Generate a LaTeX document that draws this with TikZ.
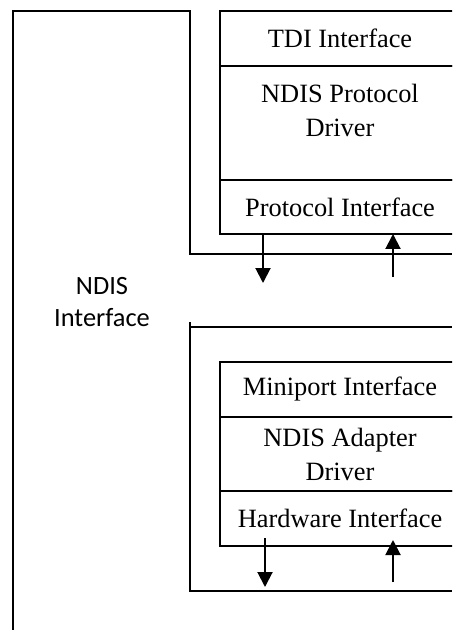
\documentclass[tikz,border=0pt]{standalone}
\usepackage{fontspec}
\setmainfont{Liberation Serif}
\newfontfamily\sidefont{Carlito}
\usepackage{tikz}
\usetikzlibrary{positioning}
\usetikzlibrary{arrows.meta}
\tikzset{my_stack/.style={line width=1pt,x=0.5pt,y=-0.5pt,>={Triangle[width=7.5pt,length=7.5pt]}}}
\tikzset{my_layer/.style={draw, line width=1pt, rectangle, minimum width=120pt, inner sep=0pt, outer sep=0pt, align=center, font=\fontsize{13.2}{17}\selectfont}}
\tikzset{my_side/.style={align=center, font=\sidefont\fontsize{13.2}{16}\selectfont}}
\tikzset{my_flow/.style={->, line width=1pt}}

\begin{document}
\begin{tikzpicture}[my_stack]
    \tikzstyle{thin_layer}=[my_layer, minimum height=27.5pt]
    \useasboundingbox (0,0) rectangle (452,630);
    \clip (0,0) rectangle (452,630);
    %\draw[help lines] (0,0) grid (452,630);

    % protocol side
    \node[thin_layer, anchor=north west] (tdi) at (220,11) {TDI Interface};
    \node[my_layer, minimum height=57pt, below=0pt of tdi] (protdrv)
        {\parbox[c][39pt][t]{110pt}{\centering NDIS Protocol\\Driver}};
    \node[thin_layer, minimum height=27pt, below=0pt of protdrv] (protif) {Protocol Interface};

    % adapter side
    \node[thin_layer, anchor=north west] (minif) at (220,362) {Miniport Interface};
    \node[my_layer, minimum height=37pt, below=0pt of minif] (adrv) {NDIS Adapter\\Driver};
    \node[thin_layer, below=0pt of adrv] (hwif) {Hardware Interface};

    \node[my_side] (ndis) at (102,302) {NDIS\\Interface};

    % the ndis wrapper
    \draw (452,254) -- (190,254) -- (190,11) -- (13,11) -- (13,630);
    \draw (190,322) -- (190,591) -- (452,591);
    \draw (190,327) -- (452,327);

    \coordinate (pdown) at (263,283);
    \coordinate (pup) at (393,277);
    \coordinate (hdown) at (265,587);
    \coordinate (hup) at (393,582);

    \path
        (protif.south -| pdown) edge [my_flow] (pdown)
        (pup) edge [my_flow] (protif.south -| pup)
        ([yshift=4pt]hwif.south -| hdown) edge [my_flow] (hdown)
        (hup) edge [my_flow] ([yshift=3pt]hwif.south -| hup)
    ;
\end{tikzpicture}
\end{document}
